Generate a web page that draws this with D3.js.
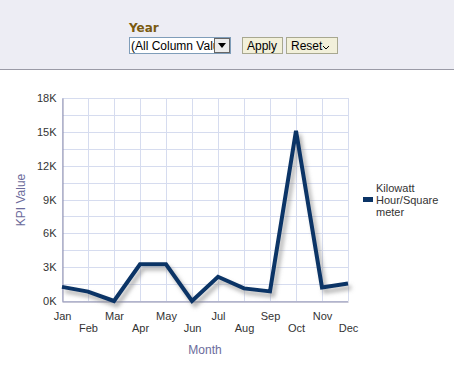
<!DOCTYPE html>
<html><head><meta charset="utf-8">
<script src="https://cdn.jsdelivr.net/npm/d3@7"></script>
<style>
body{margin:0;background:#fff;font-family:"Liberation Sans",Arial,sans-serif;}
svg{display:block}
</style></head><body>
<svg id="c" width="454" height="368"></svg>
<script>
const months = ["Jan","Feb","Mar","Apr","May","Jun","Jul","Aug","Sep","Oct","Nov","Dec"];
const kpiValues = [1250, 830, 0, 3250, 3250, 0, 2150, 1120, 850, 15100, 1200, 1550];
const yTicks = [0, 3000, 6000, 9000, 12000, 15000, 18000];
const seriesName = ["Kilowatt", "Hour/Square", "meter"];

const svg = d3.select("#c");
const defs = svg.append("defs");
defs.append("clipPath").attr("id","selclip").append("rect").attr("x",130).attr("y",38).attr("width",84).attr("height",15);

// header band
svg.append("rect").attr("x",0).attr("y",0).attr("width",454).attr("height",69).attr("fill","#ededf4");
svg.append("line").attr("x1",0).attr("x2",454).attr("y1",69.5).attr("y2",69.5).attr("stroke","#9a9aa6").attr("stroke-width",1);
svg.append("text").attr("x",129).attr("y",32).text("Year").attr("font-size",12).attr("font-weight","bold").attr("fill","#7a5a10").attr("font-family","'DejaVu Sans',sans-serif");
// select
svg.append("rect").attr("x",129.5).attr("y",37.5).attr("width",101).attr("height",16).attr("fill","#fff").attr("stroke","#7f9db9");
svg.append("text").attr("x",131).attr("y",50).text("(All Column Values)").attr("font-size",12).attr("fill","#000")
  .attr("font-family","'Liberation Sans',Arial,sans-serif").attr("clip-path","url(#selclip)");
svg.append("rect").attr("x",214.5).attr("y",38.5).attr("width",15).attr("height",14).attr("fill","#ececec").attr("stroke","#666");
svg.append("path").attr("d","M218,43 L226,43 L222,48 Z").attr("fill","#000");
// buttons
function btn(x,w,label){
  svg.append("rect").attr("x",x+.5).attr("y",37.5).attr("width",w).attr("height",16).attr("fill","#f2f0da").attr("stroke","#a8a890");
  svg.append("text").attr("x",x+5).attr("y",50).text(label).attr("font-size",12).attr("fill","#000").attr("font-family","'Liberation Sans',Arial,sans-serif");
}
btn(242,40,"Apply");
btn(286,51,"Reset");
svg.append("path").attr("d","M323,46 L326,49 L329,46").attr("fill","none").attr("stroke","#000").attr("stroke-width",1);

const m = {l:62,r:348,t:98,b:301};
const x = d3.scalePoint().domain(months).range([m.l,m.r]);
const y = d3.scaleLinear().domain([0,18000]).range([m.b,m.t]);

const g = svg.append("g");
// grid
const minor = d3.range(0,18001,1500);
g.selectAll(".hg").data(minor).enter().append("line")
  .attr("x1",m.l).attr("x2",m.r).attr("y1",d=>Math.round(y(d))+.5).attr("y2",d=>Math.round(y(d))+.5)
  .attr("stroke","#d6dcef").attr("stroke-width",1);
g.selectAll(".vg").data(months).enter().append("line")
  .attr("x1",d=>Math.round(x(d))+.5).attr("x2",d=>Math.round(x(d))+.5).attr("y1",m.t).attr("y2",m.b)
  .attr("stroke","#d6dcef").attr("stroke-width",1);

// axes
const yAxis = d3.axisLeft(y).tickValues(yTicks).tickFormat(d=>(d/1000)+"K").tickSize(0).tickPadding(6);
const ya = svg.append("g").attr("transform",`translate(${m.l+.5},0)`).call(yAxis);
ya.select(".domain").attr("stroke","#8c8cab");
ya.selectAll("text").attr("font-size",11).attr("fill","#333").attr("font-family","'Liberation Sans',Arial,sans-serif");

const xAxis = d3.axisBottom(x).tickSize(0).tickPadding(0);
const xa = svg.append("g").attr("transform",`translate(0,${m.b+.5})`).call(xAxis);
xa.select(".domain").attr("stroke","#8c8cab");
xa.selectAll("text").attr("font-size",11).attr("fill","#333").attr("font-family","'Liberation Sans',Arial,sans-serif")
  .attr("dy",null).attr("y",(d,i)=> i%2===0 ? 18 : 30);

// shadow
const f = defs.append("filter").attr("id","sh").attr("x","-10%").attr("y","-10%").attr("width","130%").attr("height","130%");
f.append("feGaussianBlur").attr("stdDeviation",2);
const line = d3.line().x((d,i)=>x(months[i])).y(d=>y(d));
svg.append("path").datum(kpiValues).attr("d",line).attr("fill","none").attr("stroke","#8a8a8a").attr("stroke-opacity",0.7)
  .attr("stroke-width",4).attr("transform","translate(3,4)").attr("filter","url(#sh)").attr("stroke-linejoin","miter");
svg.append("path").datum(kpiValues).attr("d",line).attr("fill","none").attr("stroke","#0b3466")
  .attr("stroke-width",4).attr("stroke-linejoin","miter");

// axis titles
svg.append("text").attr("transform","translate(25,200) rotate(-90)").attr("text-anchor","middle").text("KPI Value")
  .attr("font-size",12).attr("fill","#6b6b9b");
svg.append("text").attr("x",205).attr("y",354).attr("text-anchor","middle").text("Month")
  .attr("font-size",12).attr("fill","#6b6b9b");

// legend
svg.append("rect").attr("x",363).attr("y",197).attr("width",10).attr("height",5).attr("fill","#0b3466");
svg.append("g").selectAll("text").data(seriesName).enter().append("text")
  .attr("x",376).attr("y",(d,i)=>192+i*12).text(d=>d).attr("font-size",11).attr("fill","#333");
</script>
</body></html>
